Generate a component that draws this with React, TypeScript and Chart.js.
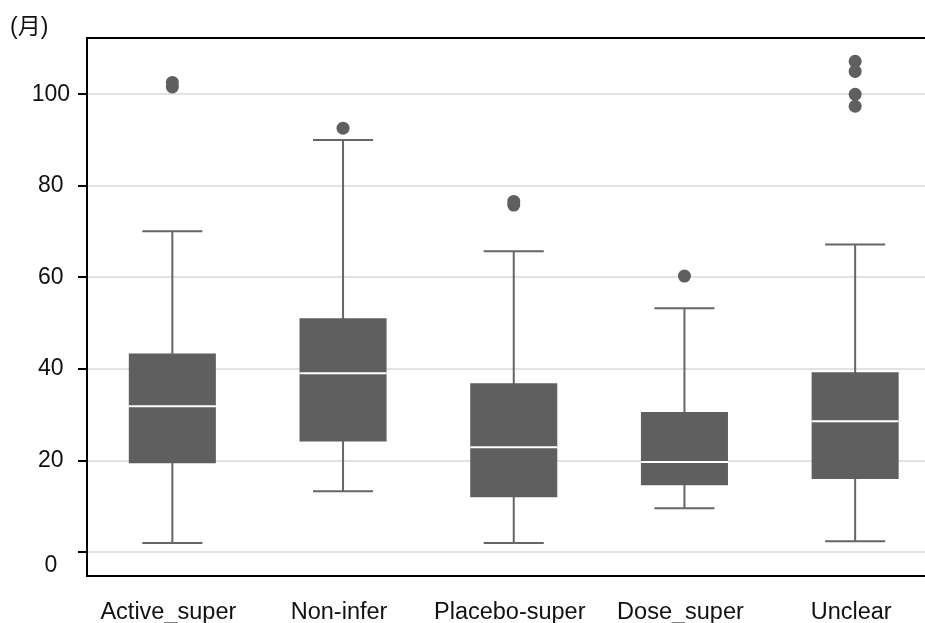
import { useEffect, useRef } from 'react';
import { Chart, registerables } from 'chart.js';

Chart.register(...registerables);

// Study design categories and their box-plot statistics (months)
const categories = ['Active_super', 'Non-infer', 'Placebo-super', 'Dose_super', 'Unclear'];
const whiskerLow = [2.0, 13.3, 2.0, 9.6, 2.4];
const q1 = [19.4, 24.2, 12.0, 14.6, 16.0];
const median = [31.9, 39.1, 22.9, 19.7, 28.6];
const q3 = [43.4, 51.1, 36.9, 30.6, 39.3];
const whiskerHigh = [70.1, 90.0, 65.7, 53.3, 67.2];
const outliers = [
  [102.6, 101.6],
  [92.6],
  [76.6, 75.8],
  [60.3],
  [107.2, 105.0, 100.0, 97.4],
];
const yTicks = [0, 20, 40, 60, 80, 100];
const unitLabel = '(月)';

const BOX = '#5f5f5f';
const WHISKER = '#666666';
const FONT = "'Liberation Sans', Arial, 'Noto Sans CJK JP', sans-serif";

export default function App() {
  const ref = useRef<HTMLCanvasElement>(null);

  useEffect(() => {
    const canvas = ref.current;
    if (!canvas) return;

    const boxParts = {
      id: 'boxParts',
      beforeDatasetsDraw(chart: any) {
        const meta = chart.getDatasetMeta(0);
        const y = chart.scales.y;
        const ctx = chart.ctx;
        ctx.save();
        ctx.strokeStyle = WHISKER;
        ctx.lineWidth = 2;
        meta.data.forEach((bar: any, i: number) => {
          const x = bar.x;
          const half = bar.width * 0.345;
          const lo = y.getPixelForValue(whiskerLow[i]);
          const hi = y.getPixelForValue(whiskerHigh[i]);
          ctx.beginPath();
          ctx.moveTo(x, lo);
          ctx.lineTo(x, hi);
          ctx.moveTo(x - half, lo);
          ctx.lineTo(x + half, lo);
          ctx.moveTo(x - half, hi);
          ctx.lineTo(x + half, hi);
          ctx.stroke();
        });
        ctx.restore();
      },
      afterDatasetsDraw(chart: any) {
        const meta = chart.getDatasetMeta(0);
        const y = chart.scales.y;
        const ctx = chart.ctx;
        ctx.save();
        ctx.strokeStyle = '#ffffff';
        ctx.lineWidth = 2;
        meta.data.forEach((bar: any, i: number) => {
          const m = y.getPixelForValue(median[i]);
          ctx.beginPath();
          ctx.moveTo(bar.x - bar.width / 2, m);
          ctx.lineTo(bar.x + bar.width / 2, m);
          ctx.stroke();
        });
        ctx.restore();
      },
      afterDraw(chart: any) {
        const { ctx, chartArea } = chart;
        const y = chart.scales.y;
        ctx.save();
        // top frame line
        ctx.strokeStyle = '#000';
        ctx.lineWidth = 2;
        ctx.beginPath();
        ctx.moveTo(chartArea.left - 1, chartArea.top);
        ctx.lineTo(chartArea.right, chartArea.top);
        ctx.stroke();
        // zero label sits just below its tick
        ctx.fillStyle = '#111';
        ctx.font = `23px ${FONT}`;
        ctx.textAlign = 'center';
        ctx.textBaseline = 'middle';
        ctx.fillText('0', 51, y.getPixelForValue(0) + 13);
        // unit label
        ctx.textAlign = 'left';
        ctx.fillText(unitLabel, 10, 28);
        ctx.restore();
      },
    };

    const outlierPoints: { x: string; y: number }[] = [];
    outliers.forEach((vals, i) => vals.forEach((v) => outlierPoints.push({ x: categories[i], y: v })));

    const chart = new Chart(canvas, {
      type: 'bar',
      data: {
        labels: categories,
        datasets: [
          {
            type: 'bar',
            data: categories.map((_, i) => [q1[i], q3[i]]) as any,
            backgroundColor: BOX,
            borderWidth: 0,
            barPercentage: 0.51,
            categoryPercentage: 1,
          },
          {
            type: 'line',
            data: outlierPoints as any,
            showLine: false,
            pointRadius: 6.5,
            pointHoverRadius: 6.5,
            pointBackgroundColor: BOX,
            pointBorderWidth: 0,
            borderColor: BOX,
          },
        ],
      },
      options: {
        responsive: false,
        animation: false,
        devicePixelRatio: 1,
        layout: { padding: { top: 38, left: 0, right: 0, bottom: 0 } },
        plugins: { legend: { display: false }, tooltip: { enabled: false } },
        scales: {
          x: {
            grid: { display: false, drawTicks: false },
            border: { display: true, color: '#000', width: 2 },
            ticks: { color: '#111', font: { family: FONT, size: 23.5 }, padding: 22, labelOffset: -4 },
            afterFit: (s: any) => {
              s.height = 47;
            },
          },
          y: {
            min: -5.2,
            max: 112.3,
            afterBuildTicks: (s: any) => {
              s.ticks = yTicks.map((v) => ({ value: v }));
            },
            ticks: {
              includeBounds: false,
              color: '#111',
              font: { family: FONT, size: 23 },
              padding: 8,
              crossAlign: 'center',
              callback: (v: any) => (v === 0 ? '' : String(v)),
            },
            grid: { color: '#e2e2e2', lineWidth: 2, tickColor: '#000', tickLength: 9, tickWidth: 2 },
            border: { display: true, color: '#000', width: 2 },
            afterFit: (s: any) => {
              s.width = 87;
            },
          },
        },
      },
      plugins: [boxParts],
    } as any);

    return () => chart.destroy();
  }, []);

  return (
    <div
      style={{
        position: 'fixed',
        left: 0,
        top: 0,
        width: 925,
        height: 623,
        overflow: 'hidden',
        background: '#fff',
      }}
    >
      <canvas ref={ref} width={947} height={623} style={{ display: 'block' }} />
    </div>
  );
}
